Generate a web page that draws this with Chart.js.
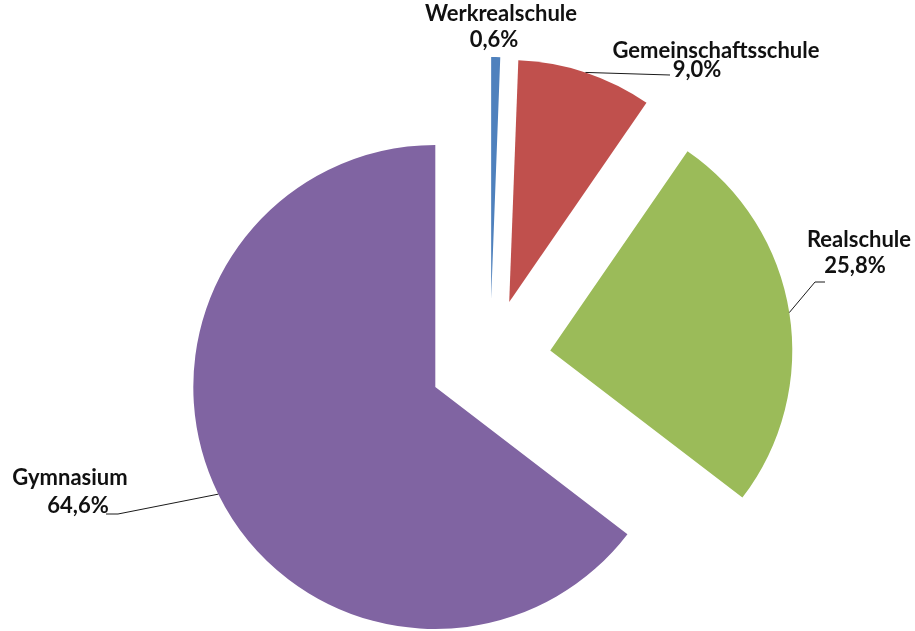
<!DOCTYPE html>
<html>
<head>
<meta charset="utf-8">
<script src="https://cdn.jsdelivr.net/npm/chart.js@4"></script>
<style>
  body { margin: 0; background: #fff; }
  #wrap { width: 915px; height: 631px; }
</style>
</head>
<body>
<div id="wrap"><canvas id="schoolChart"></canvas></div>
<script>
const categories = ['Werkrealschule', 'Gemeinschaftsschule', 'Realschule', 'Gymnasium'];
const shares = [0.6, 9.0, 25.8, 64.6];
const colors = ['#4F81BD', '#C0504D', '#9BBB59', '#8064A2'];

// every slice pulled out by the same distance, like Excel's exploded pie
const explode = 61;

const fmt = v => v.toFixed(1).replace('.', ',') + '%';

// label placement: name and value anchors, plus leader bend points
const labelLayout = [
  { name: [501, 21], value: [494, 47], leader: null },
  { name: [716, 58], value: [697, 77], leader: [[670, 75]] },
  { name: [859, 247], value: [855, 273], leader: [[815, 282], [825, 282]] },
  { name: [70, 485], value: [78, 513], leader: [[118, 514], [106, 514]] }
];

function shift(arc) {
  const p = arc.getProps(['startAngle', 'endAngle'], true);
  const mid = (p.startAngle + p.endAngle) / 2;
  return [Math.cos(mid) * explode, Math.sin(mid) * explode, mid];
}

// chart.js offset also grows the radius, so move the slices ourselves
const explodePlugin = {
  id: 'explodeSlices',
  beforeDatasetsDraw(chart) {
    const ctx = chart.ctx;
    chart.getDatasetMeta(0).data.forEach(arc => {
      const [dx, dy] = shift(arc);
      ctx.save();
      ctx.translate(dx, dy);
      arc.draw(ctx);
      ctx.restore();
    });
    return false;
  }
};

const labelPlugin = {
  id: 'pieLabels',
  afterDraw(chart) {
    const ctx = chart.ctx;
    ctx.save();
    chart.getDatasetMeta(0).data.forEach((arc, i) => {
      const p = arc.getProps(['x', 'y', 'outerRadius'], true);
      const [dx, dy, mid] = shift(arc);
      const lay = labelLayout[i];
      if (lay.leader) {
        ctx.beginPath();
        ctx.moveTo(p.x + dx + Math.cos(mid) * p.outerRadius, p.y + dy + Math.sin(mid) * p.outerRadius);
        lay.leader.forEach(pt => ctx.lineTo(pt[0], pt[1]));
        ctx.strokeStyle = '#1a1a1a';
        ctx.lineWidth = 1;
        ctx.stroke();
      }
      ctx.fillStyle = '#111';
      ctx.font = 'bold 22px Lato';
      ctx.textAlign = 'center';
      ctx.textBaseline = 'alphabetic';
      ctx.fillText(categories[i], lay.name[0], lay.name[1]);
      ctx.fillText(fmt(shares[i]), lay.value[0], lay.value[1]);
    });
    ctx.restore();
  }
};

new Chart(document.getElementById('schoolChart'), {
  type: 'pie',
  data: {
    labels: categories,
    datasets: [{
      data: shares,
      backgroundColor: colors,
      borderWidth: 0
    }]
  },
  options: {
    responsive: true,
    maintainAspectRatio: false,
    animation: false,
    radius: 242,
    layout: { padding: { left: 65, top: 89, right: 0, bottom: 0 } },
    plugins: {
      legend: { display: false },
      tooltip: { enabled: false }
    }
  },
  plugins: [explodePlugin, labelPlugin]
});
</script>
</body>
</html>
